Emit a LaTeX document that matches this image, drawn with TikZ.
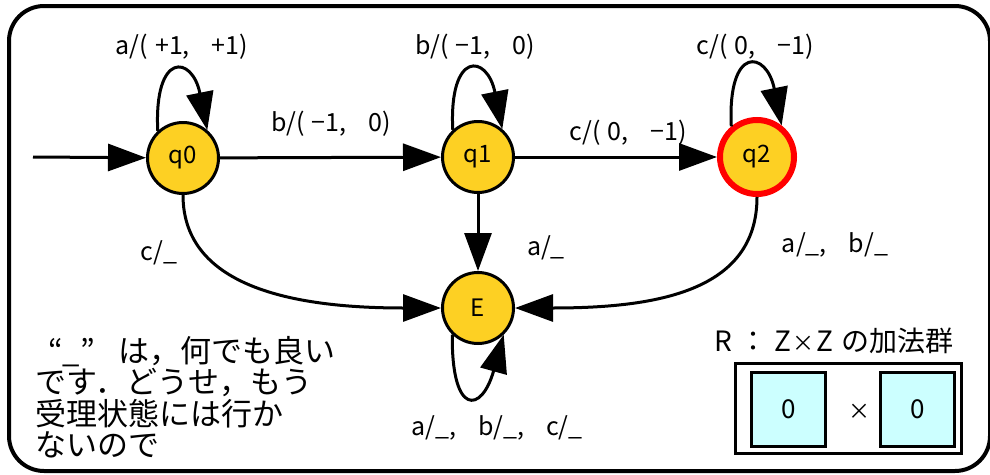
\documentclass[tikz,border=0pt]{standalone}
\usepackage{fontspec}
\setmainfont{Noto Sans CJK JP}
\usetikzlibrary{arrows.meta}
\definecolor{stategold}{HTML}{FDD023}
\definecolor{boxcyan}{HTML}{CCFFFF}
\newcommand{\gapa}{\hspace{7pt}}
\newcommand{\gapb}{\hspace{22pt}}
\begin{document}
\begin{tikzpicture}[x=1pt,y=-1pt,
  state/.style={circle, draw, line width=3pt, fill=stategold, minimum size=71pt,
    inner sep=0pt, font=\fontsize{24}{24}\selectfont},
  accept/.style={state, draw=red, line width=6pt, minimum size=74pt},
  trans/.style={line width=3pt, -{Triangle[length=38pt,width=27pt]}},
  lbl/.style={font=\fontsize{25}{25}\selectfont, inner sep=0pt},
  note/.style={font=\fontsize{31}{31.5}\selectfont, align=left, inner sep=0pt, anchor=north west},
  cell/.style={draw, line width=3pt, fill=boxcyan, minimum width=74pt, minimum height=74pt,
    inner sep=0pt, font=\fontsize{26}{26}\selectfont}
]
\useasboundingbox (0,0) rectangle (990,474);

% frame
\draw[line width=4pt, rounded corners=35pt] (9,6) rectangle (990,471);

% states
\node[state] (q0) at (183,158) {q0};
\node[state] (q1) at (478,157) {q1};
\node[accept] (q2) at (757,157) {q2};
\node[state] (E) at (478,308) {E};
\coordinate (init) at (33,157);

% transitions
\draw[trans] (init) -- (q0);
\draw[trans] (q0) -- (q1);
\draw[trans] (q1) -- (q2);
\draw[trans] (q1) -- (E);
\draw[trans] (q0.south) .. controls +(0,95) and +(-140,0) .. (E.west);
\draw[trans] (q2.south) .. controls +(0,95) and +(140,0) .. (E.east);

% self loops
\draw[trans] (q0.133) .. controls +(-4,-80) and +(-15,-75) .. (q0.49);
\draw[trans] (q1.133) .. controls +(-4,-80) and +(-15,-75) .. (q1.49);
\draw[trans] (q2.130) .. controls +(-4,-82) and +(-15,-75) .. (q2.52);
\draw[trans] (E.226) .. controls +(-1,82) and +(-22,79) .. (E.314);

% transition labels
\node[lbl] (lq0) at (182,47) {a/(\gapa+1,\gapb+1)};
\node[lbl] (lq1) at (475,47) {b/(\gapa−1,\gapb0)};
\node[lbl] (lq2) at (755,47) {c/(\gapa0,\gapb−1)};
\node[lbl] (l01) at (331,124) {b/(\gapa−1,\gapb0)};
\node[lbl] (l12) at (628,133) {c/(\gapa0,\gapb−1)};
\node[lbl] (l1E) at (546,248) {a/\_};
\node[lbl] (l0E) at (159,253) {c/\_};
\node[lbl] (l2E) at (835,245) {a/\_,\gapb b/\_};
\node[lbl] (lEE) at (497,428) {a/\_,\gapb b/\_,\gapb c/\_};

% remark
\node[note] (memo) at (35,336) {\hspace{13pt}“\_”\hspace{24pt}は，何でも良い\\です．どうせ，もう\\受理状態には行か\\ないので};

% register
\node[font=\fontsize{28}{28}\selectfont, inner sep=0pt] (title) at (834,341)
  {R\hspace{8pt}：\hspace{6pt}Z\hspace{2pt}{\fontsize{22}{22}\selectfont×}\hspace{2pt}Z\hspace{8pt}の加法群};
\node[draw, line width=3pt, minimum width=226pt, minimum height=90pt, inner sep=0pt] (reg) at (848.5,408.5) {};
\node[cell] (c1) at (788.5,409.5) {0};
\node[cell] (c2) at (917.5,409.5) {0};
\node[font=\fontsize{22}{22}\selectfont, inner sep=0pt] (times) at (859,412) {×};
\end{tikzpicture}
\end{document}
